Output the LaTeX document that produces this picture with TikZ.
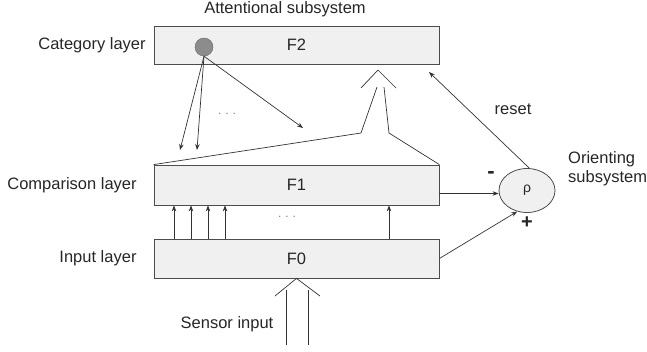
\documentclass[tikz,border=0pt]{standalone}
\usepackage{fontspec}
\setmainfont{Liberation Sans}
\usetikzlibrary{shapes.geometric,arrows.meta}
\begin{document}
\begin{tikzpicture}[x=1pt,y=-1pt,
  every node/.style={font=\fontsize{16.5}{19}\selectfont, text=black!85},
  layer/.style={draw=black!70, fill=black!6, minimum width=285pt, inner sep=0pt, line width=0.8pt},
  conn/.style={draw=black!80, line width=0.7pt},
  arr/.style={conn, -{Stealth[length=6pt,width=4.5pt]}},
  lbl/.style={inner sep=0pt}]
\useasboundingbox (0,0) rectangle (647,351);
% layers
\node[layer, minimum height=38pt] (f2) at (296.5,45) {F2};
\node[layer, minimum height=40pt] (f1) at (296.5,185) {F1};
\node[layer, minimum height=39pt] (f0) at (296.5,258.5) {F0};
% labels
\node[lbl] (att) at (285,9) {Attentional subsystem};
\node[lbl] (cat) at (92,45) {Category layer};
\node[lbl] (cmp) at (72,185) {Comparison layer};
\node[lbl] (inp) at (98,258) {Input layer};
\node[lbl] (sens) at (227,324) {Sensor input};
% category node
\node[circle, draw=black!60, fill=black!45, minimum size=18pt, inner sep=0pt] (c) at (204,47) {};
% top-down arrows
\coordinate (d1) at (180,150);
\coordinate (d2) at (197,150);
\coordinate (d3) at (303,128);
\draw[arr] (c.south) -- (d1);
\draw[arr] (c.south) -- (d2);
\draw[arr] (c.south) -- (d3);
\node[lbl, text=black!50, font=\fontsize{12}{14}\selectfont] (dots1) at (227,114) {.\,\,.\,\,.};
% bottom-up hollow arrow
\coordinate (tip) at (378,70);
\coordinate (wl) at (361,88);
\coordinate (wr) at (396,88);
\coordinate (sl) at (377,87);
\coordinate (sr) at (384,87);
\coordinate (bl) at (361,133);
\coordinate (br) at (389,133);
\draw[conn] (wl) -- (tip) -- (wr);
\draw[conn] (sl) -- (bl) -- (f1.north west);
\draw[conn] (sr) -- (br) -- (f1.north east);
% F0 -> F1 arrows
\foreach \x/\n in {174/a,191/b,208/c,225/d,389/e}{
  \draw[arr] (f0.north -| \x,0) -- (f1.south -| \x,0);
}
\node[lbl, text=black!50, font=\fontsize{12}{14}\selectfont] (dots2) at (287,217) {.\,\,.\,\,.};
% sensor input hollow arrow
\coordinate (stl) at (275,296);
\coordinate (str) at (320,296);
\coordinate (s1t) at (286,290);
\coordinate (s1b) at (286,345);
\coordinate (s2t) at (308,290);
\coordinate (s2b) at (308,345);
\draw[conn] (stl) -- (f0.south) -- (str);
\draw[conn] (s1t) -- (s1b);
\draw[conn] (s2t) -- (s2b);
% orienting subsystem
\node[ellipse, draw=black!70, fill=black!6, minimum width=56pt, minimum height=44pt, inner sep=0pt, line width=0.8pt, font=\fontsize{14}{16}\selectfont] (rho) at (527,190.5) {ρ};
\node[lbl, anchor=west, align=left] (ori) at (568,169) {Orienting\\subsystem};
\draw[arr] ([yshift=-8.5pt]f1.east) -- ([yshift=-8.5pt]f1.east -| rho.west);
\draw[arr] (f0.east) -- (rho.245);
\coordinate (rs) at (429,72);
\draw[arr] (rho.84) -- (rs);
\node[lbl] (reset) at (513,109) {reset};
\node[lbl, font=\fontsize{22}{24}\selectfont\bfseries] (minus) at (491,175) {-};
\node[lbl, font=\fontsize{20}{22}\selectfont\bfseries] (plus) at (527,223) {+};
\end{tikzpicture}
\end{document}
